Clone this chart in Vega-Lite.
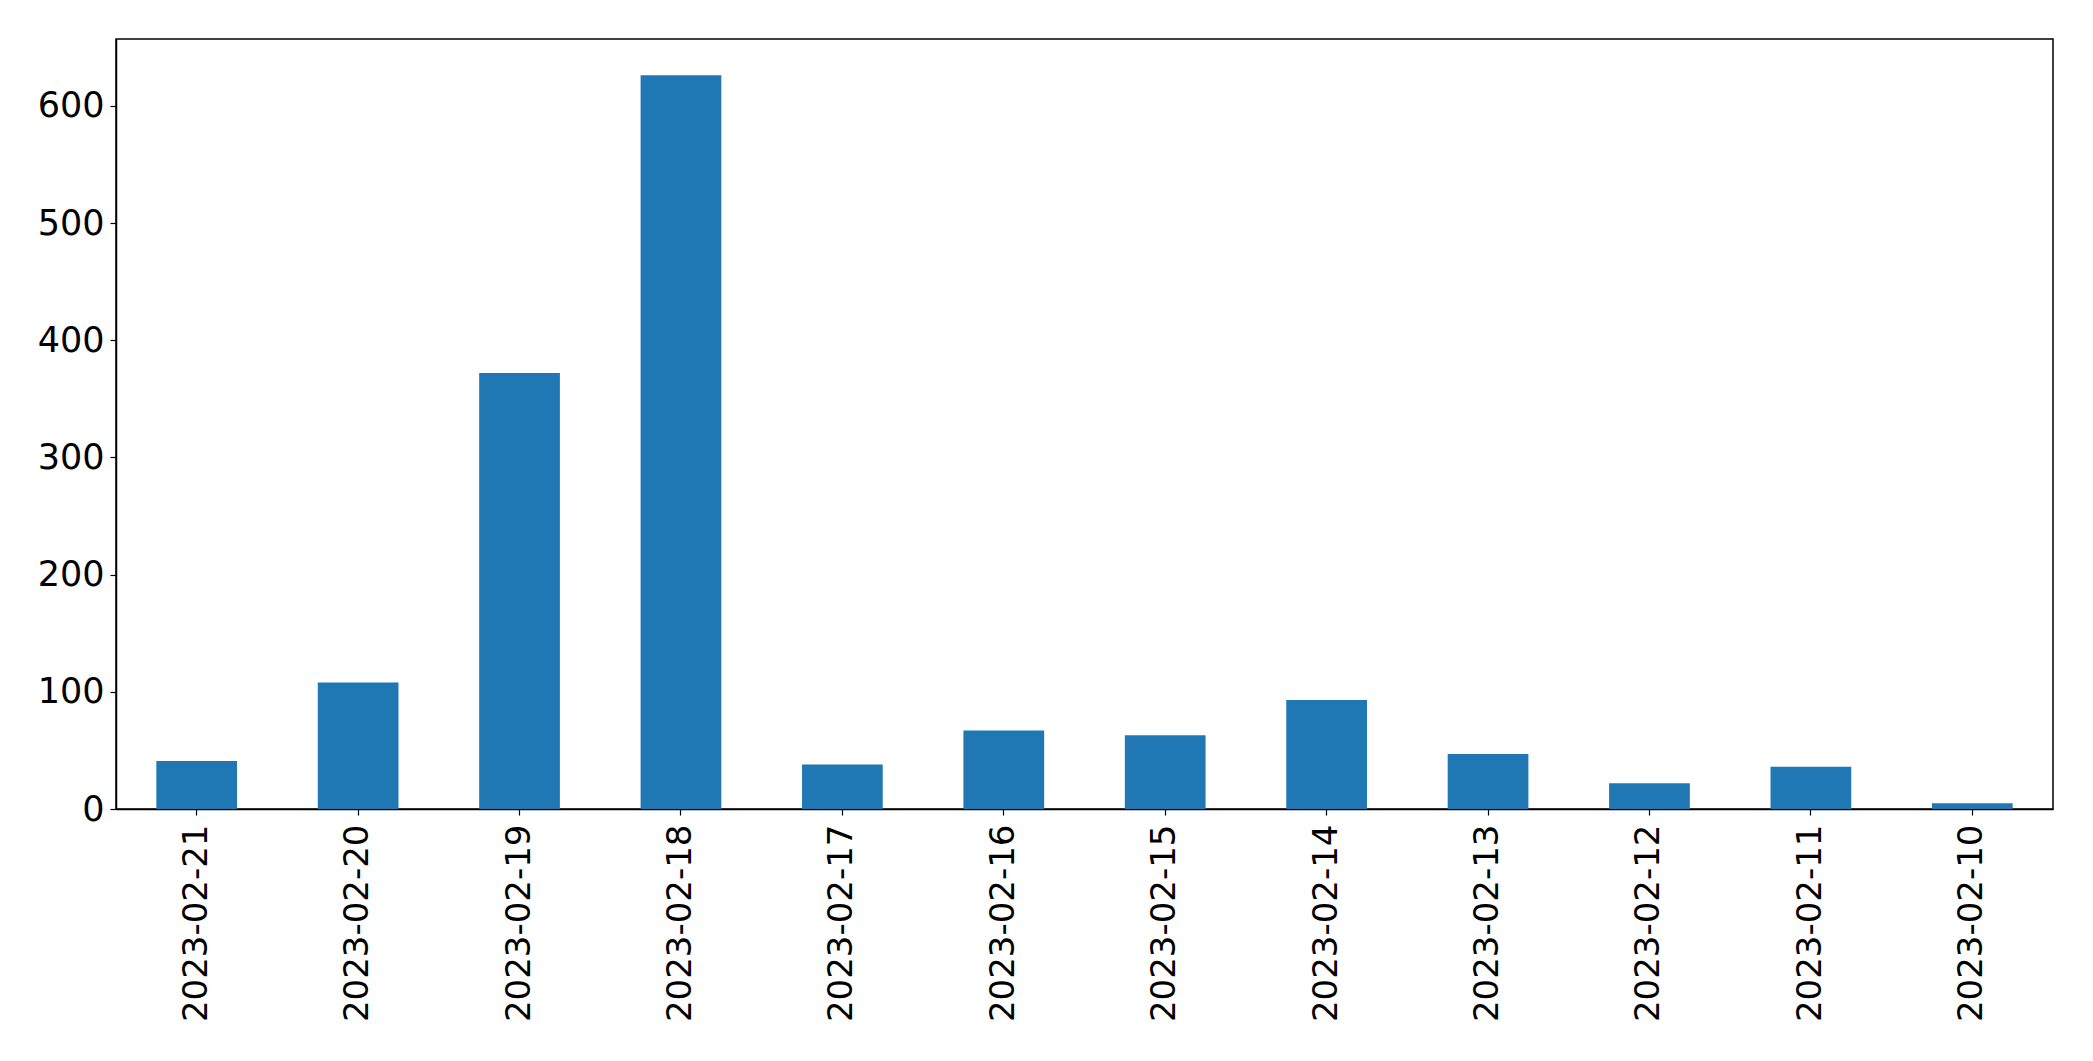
{
  "$schema": "https://vega.github.io/schema/vega-lite/v6.json",
  "autosize": {"type": "none"},
  "width": 1937,
  "height": 770,
  "padding": {"left": 116, "top": 39, "right": 40, "bottom": 252},
  "background": "white",
  "data": {
    "values": [
      {"date": "2023-02-21", "count": 41},
      {"date": "2023-02-20", "count": 108},
      {"date": "2023-02-19", "count": 372},
      {"date": "2023-02-18", "count": 626},
      {"date": "2023-02-17", "count": 38},
      {"date": "2023-02-16", "count": 67},
      {"date": "2023-02-15", "count": 63},
      {"date": "2023-02-14", "count": 93},
      {"date": "2023-02-13", "count": 47},
      {"date": "2023-02-12", "count": 22},
      {"date": "2023-02-11", "count": 36},
      {"date": "2023-02-10", "count": 5}
    ]
  },
  "mark": {"type": "bar", "color": "#1f77b4"},
  "encoding": {
    "x": {
      "field": "date",
      "type": "nominal",
      "sort": null,
      "scale": {"paddingInner": 0.5, "paddingOuter": 0.25},
      "axis": {
        "title": null,
        "labelAngle": -90,
        "labelFontSize": 34,
        "labelLimit": 0,
        "labelFont": "DejaVu Sans",
        "labelColor": "black",
        "labelPadding": 9,
        "tickColor": "black",
        "tickSize": 6,
        "tickWidth": 1.2,
        "domainColor": "black",
        "domainWidth": 1.5
      }
    },
    "y": {
      "field": "count",
      "type": "quantitative",
      "scale": {"domain": [0, 657], "nice": false},
      "axis": {
        "title": null,
        "values": [0, 100, 200, 300, 400, 500, 600],
        "grid": false,
        "labelFontSize": 35,
        "labelFont": "DejaVu Sans",
        "labelColor": "black",
        "labelPadding": 6,
        "tickColor": "black",
        "tickSize": 6,
        "tickWidth": 1.2,
        "domainColor": "black",
        "domainWidth": 1.5
      }
    }
  },
  "config": {
    "view": {"stroke": "black", "strokeWidth": 1.5}
  }
}
